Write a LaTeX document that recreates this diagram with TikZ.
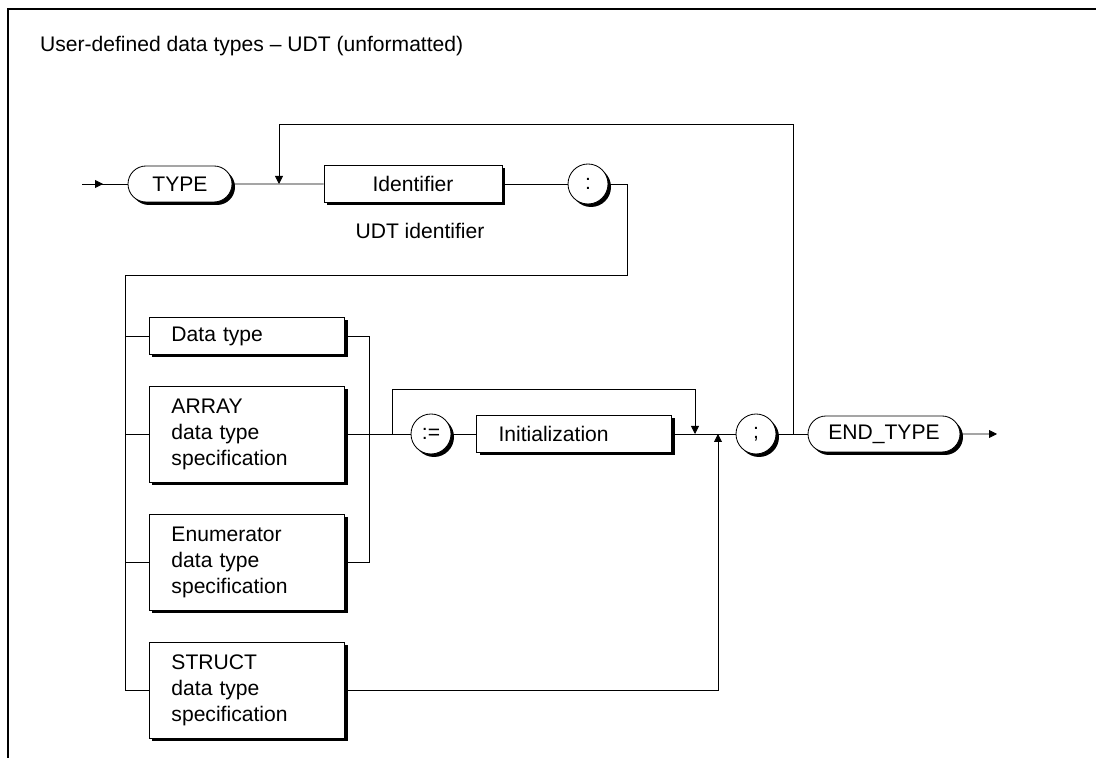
\documentclass[tikz,border=0pt]{standalone}
\usepackage{fontspec}
\setmainfont{Liberation Sans}
\usetikzlibrary{shapes.misc, arrows.meta, shadows}

\begin{document}
\begin{tikzpicture}[x=0.25mm, y=-0.25mm, line width=0.6pt,
    font=\fontsize{15}{18.5}\selectfont,
    sdw/.style={drop shadow={shadow xshift=0.75mm, shadow yshift=-0.75mm, fill=black, opacity=1}},
    term/.style={rounded rectangle, draw, fill=white, sdw, minimum width=#1,
                 minimum height=9mm, inner sep=0pt},
    symb/.style={circle, draw, fill=white, sdw, minimum size=10mm, inner sep=0pt},
    nterm/.style={rectangle, draw, fill=white, sdw, minimum width=48.75mm, minimum height=#1,
                  text width=37.75mm, inner xsep=5.5mm, align=left},
    nterm/.default=9.25mm,
    arr/.style={-{Triangle[length=2mm, width=2mm]}}
]
\useasboundingbox (0,0) rectangle (1096,758);
\draw[line width=1.2pt] (8,758) -- (8,9) -- (1096,9);

\node[anchor=west] (title) at (35,46) {User-defined data types -- UDT (unformatted)};

% first row
\coordinate (in) at (82,184);
\node[term=26mm] (type) at (180,184) {TYPE};
\coordinate (jloop) at (279,184);
\node[nterm, minimum width=44.5mm, text width=33.5mm, align=center] (ident) at (413,184) {Identifier};
\node (udtlab) at (420,231) {UDT identifier};
\node[symb] (colon) at (588,184) {:};

% alternatives
\coordinate (railtop) at (125,275);
\coordinate (railbot) at (125,690);
\node[nterm] (dtype) at (247,336) {Data type};
\node[nterm=24mm] (array) at (247,434) {ARRAY\\data type\\specification};
\node[nterm=24mm] (enum) at (247,562) {Enumerator\\data type\\specification};
\node[nterm=24mm] (struct) at (247,690) {STRUCT\\data type\\specification};

% initialization and end
\coordinate (jinit) at (392,434);
\node[symb] (assign) at (431,434) {:=};
\node[nterm] (init) at (574,434) {Initialization};
\coordinate (jskip) at (695,434);
\coordinate (jstruct) at (718,434);
\node[symb] (semi) at (756,434) {;};
\coordinate (jsemi) at (793,434);
\node[term=38mm] (endtype) at (884,434) {END\_TYPE};
\coordinate (out) at (997,434);

\draw (in) -- (type);
\draw[arr] (in) -- ++(21,0);
\draw (type) -- (ident);
\draw (ident) -- (colon);
\draw (colon.east) -- ++(19,0) |- (railtop) -- (railbot) -- (struct.west);
\draw (dtype.west -| railtop) -- (dtype.west);
\draw (array.west -| railtop) -- (array.west);
\draw (enum.west -| railtop) -- (enum.west);
\draw (dtype.east) -- ++(24,0) |- (enum.east);
\draw (array) -- (assign);
\draw[arr] (jinit) -- ++(0,-45) -| (jskip);
\draw (assign) -- (init);
\draw (init) -- (semi);
\draw[arr] (struct.east) -| (jstruct);
\draw (semi) -- (endtype);
\draw[arr] (jsemi) -- ++(0,-310) -| (jloop);
\draw[arr] (endtype) -- (out);
\end{tikzpicture}
\end{document}
